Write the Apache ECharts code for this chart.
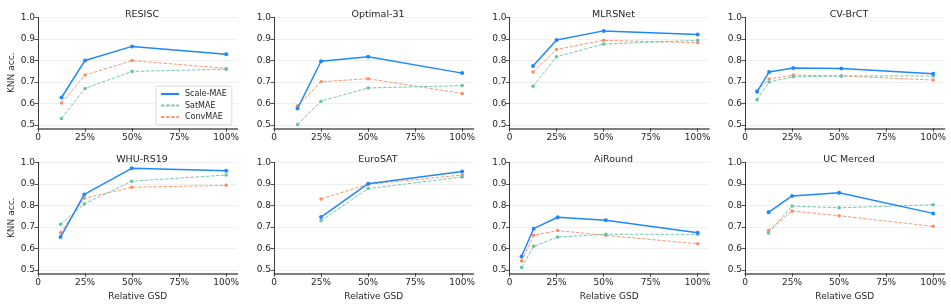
<!DOCTYPE html>
<html>
<head>
<meta charset="utf-8">
<script src="https://cdn.jsdelivr.net/npm/echarts@6/dist/echarts.min.js"></script>
<style>
html,body{margin:0;padding:0;background:#fff;}
#chart{width:951px;height:307px;}
</style>
</head>
<body>
<div id="chart"></div>
<script>
// ---- data ----
const seriesNames = ['Scale-MAE', 'SatMAE', 'ConvMAE'];
const titles = ['RESISC', 'Optimal-31', 'MLRSNet', 'CV-BrCT', 'WHU-RS19', 'EuroSAT', 'AiRound', 'UC Merced'];
const xTickValues = [0, 0.25, 0.5, 0.75, 1.0];
const yTickValues = [0.5, 0.6, 0.7, 0.8, 0.9, 1.0];

const gsdResisc = [0.125, 0.25, 0.5, 1.0];
const scaleResisc = [0.628, 0.800, 0.865, 0.828];
const satResisc = [0.531, 0.670, 0.749, 0.759];
const convResisc = [0.602, 0.732, 0.799, 0.763];

const gsdOptimal = [0.125, 0.25, 0.5, 1.0];
const scaleOptimal = [0.577, 0.796, 0.817, 0.741];
const satOptimal = [0.503, 0.611, 0.672, 0.683];
const convOptimal = [0.590, 0.701, 0.715, 0.647];

const gsdMlrs = [0.125, 0.25, 0.5, 1.0];
const scaleMlrs = [0.774, 0.895, 0.937, 0.920];
const satMlrs = [0.680, 0.817, 0.876, 0.893];
const convMlrs = [0.746, 0.851, 0.893, 0.882];

const gsdBrct = [0.064, 0.128, 0.256, 0.512, 1.0];
const scaleBrct = [0.655, 0.746, 0.765, 0.762, 0.738];
const satBrct = [0.618, 0.700, 0.724, 0.728, 0.728];
const convBrct = [0.659, 0.714, 0.732, 0.728, 0.709];

const gsdWhu = [0.12, 0.246, 0.498, 1.0];
const scaleWhu = [0.653, 0.851, 0.972, 0.961];
const satWhu = [0.712, 0.807, 0.912, 0.941];
const convWhu = [0.673, 0.833, 0.884, 0.893];

const gsdEuro = [0.25, 0.5, 1.0];
const scaleEuro = [0.746, 0.901, 0.957];
const satEuro = [0.729, 0.878, 0.932];
const convEuro = [0.830, 0.898, 0.941];

const gsdAiround = [0.064, 0.128, 0.256, 0.512, 1.0];
const scaleAiround = [0.563, 0.692, 0.745, 0.731, 0.673];
const satAiround = [0.512, 0.610, 0.653, 0.666, 0.666];
const convAiround = [0.542, 0.661, 0.683, 0.661, 0.622];

const gsdUcm = [0.125, 0.25, 0.5, 1.0];
const scaleUcm = [0.768, 0.844, 0.859, 0.763];
const satUcm = [0.672, 0.797, 0.789, 0.803];
const convUcm = [0.684, 0.774, 0.752, 0.703];

const panels = [
  [gsdResisc, scaleResisc, satResisc, convResisc],
  [gsdOptimal, scaleOptimal, satOptimal, convOptimal],
  [gsdMlrs, scaleMlrs, satMlrs, convMlrs],
  [gsdBrct, scaleBrct, satBrct, convBrct],
  [gsdWhu, scaleWhu, satWhu, convWhu],
  [gsdEuro, scaleEuro, satEuro, convEuro],
  [gsdAiround, scaleAiround, satAiround, convAiround],
  [gsdUcm, scaleUcm, satUcm, convUcm]
];

// ---- layout / style ----
const FONT = 'DejaVu Sans';
const TXT = '#262626';
const colors = ['#1e88ff', '#66c2a5', '#fc8d62'];
const lefts = [38, 274, 509.5, 745];
const tops = [17.3, 162.3];
const GW = 199.5, GH = 111;
const XMAX = 1.06, YMIN = 0.485, YMAX = 1.0;

const grids = [], xAxes = [], yAxes = [], series = [], titleArr = [];
for (let i = 0; i < 8; i++) {
  const col = i % 4, row = Math.floor(i / 4);
  grids.push({left: lefts[col], top: tops[row], width: GW, height: GH});
  titleArr.push({
    text: titles[i], left: lefts[col] + 188 * 0.5 + 5, top: tops[row] - 13, textAlign: 'center',
    textStyle: {fontFamily: FONT, fontSize: 9.5, fontWeight: 'normal', color: TXT}
  });
  xAxes.push({
    type: 'value', gridIndex: i, min: 0, max: XMAX,
    name: row === 1 ? 'Relative GSD' : '', nameLocation: 'middle', nameGap: 19,
    nameTextStyle: {fontFamily: FONT, fontSize: 9, color: TXT},
    axisLine: {show: true, lineStyle: {color: '#555', width: 1.6}},
    axisTick: {show: true, length: 3.5, customValues: xTickValues, lineStyle: {color: TXT, width: 0.8}},
    axisLabel: {customValues: xTickValues, fontFamily: FONT, fontSize: 9, color: TXT, margin: 5,
      formatter: v => v === 0 ? '0' : Math.round(v * 100) + '%'},
    splitLine: {show: false}
  });
  yAxes.push({
    type: 'value', gridIndex: i, min: YMIN, max: YMAX,
    name: col === 0 ? 'KNN acc.' : '', nameLocation: 'middle', nameGap: 22,
    nameTextStyle: {fontFamily: FONT, fontSize: 9, color: TXT},
    axisLine: {show: true, lineStyle: {color: TXT, width: 0.9}},
    axisTick: {show: true, length: 3.5, customValues: yTickValues, lineStyle: {color: TXT, width: 0.8}},
    axisLabel: {customValues: yTickValues, fontFamily: FONT, fontSize: 9, color: TXT, margin: 3,
      formatter: v => v.toFixed(1)},
    splitLine: {show: false}
  });
  const p = panels[i];
  for (let s = 0; s < 3; s++) {
    const ser = {
      type: 'line', name: seriesNames[s], xAxisIndex: i, yAxisIndex: i,
      data: p[0].map((x, k) => [x, p[s + 1][k]]),
      symbol: 'circle', symbolSize: s === 0 ? 4 : 3.5,
      color: colors[s],
      lineStyle: s === 0 ? {width: 1.5, color: colors[s]} : {width: 1, type: [3.5, 1.6], color: colors[s], opacity: 0.9},
      itemStyle: {color: colors[s]},
      z: s === 0 ? 5 : 4 - s,
      animation: false,
      silent: true
    };
    if (s === 0) {
      ser.markLine = {
        silent: true, symbol: ['none', 'none'], label: {show: false}, animation: false,
        lineStyle: {color: '#ebebeb', width: 0.8, type: 'solid'},
        data: yTickValues.map(v => ({yAxis: v})),
        z: 0
      };
    }
    series.push(ser);
  }
}

const chart = echarts.init(document.getElementById('chart'), null, {renderer: 'canvas'});
chart.setOption({
  backgroundColor: '#fff',
  animation: false,
  title: titleArr,
  legend: {
    data: seriesNames, orient: 'vertical', left: 156, top: 86,
    itemWidth: 18, itemHeight: 8, itemGap: 3.5,
    padding: [4, 5, 4, 4],
    borderColor: '#d0d0d0', borderWidth: 0.8, borderRadius: 2, backgroundColor: '#fff',
    itemStyle: {opacity: 0},
    textStyle: {fontFamily: FONT, fontSize: 8, color: TXT, padding: [0, 0, 0, 1]}
  },
  grid: grids, xAxis: xAxes, yAxis: yAxes, series: series
});
</script>
</body>
</html>
